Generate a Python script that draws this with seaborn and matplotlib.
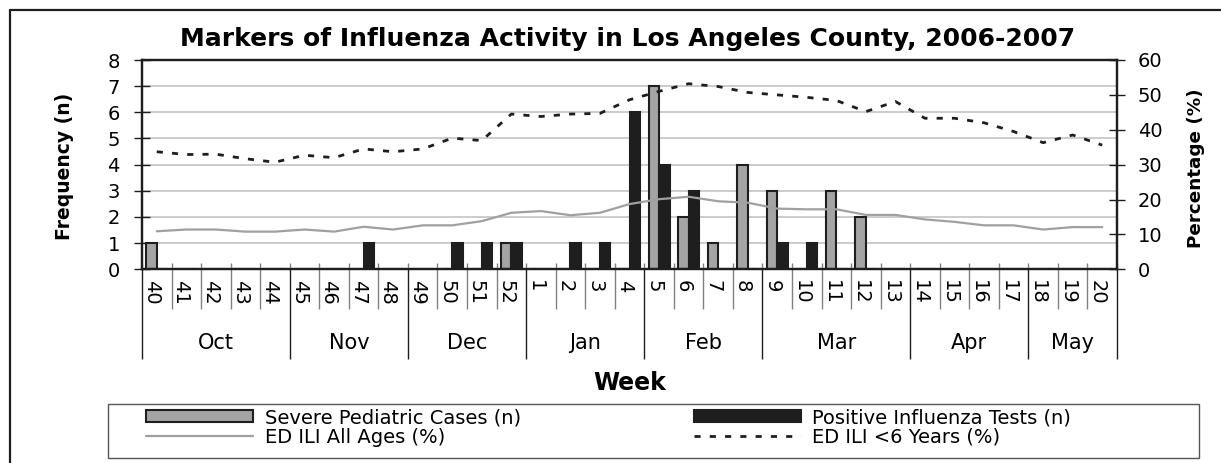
import numpy as np
import pandas as pd
import matplotlib
matplotlib.use("Agg")
import matplotlib.pyplot as plt
from matplotlib.patches import Rectangle
from matplotlib.lines import Line2D
import seaborn as sns

sns.set_style("white")
plt.rcParams['font.family'] = ['DejaVu Sans']
plt.rcParams['text.color'] = 'black'
plt.rcParams['xtick.labelcolor'] = 'black'
plt.rcParams['ytick.labelcolor'] = 'black'

# data
weeks = [str(w) for w in range(40, 53)] + [str(w) for w in range(1, 21)]
months = ["Oct", "Nov", "Dec", "Jan", "Feb", "Mar", "Apr", "May"]
month_len = [5, 4, 4, 4, 4, 5, 4, 3]

severe = [1, 0, 0, 0, 0, 0, 0, 0, 0, 0, 0, 0, 1,
          0, 0, 0, 0, 7, 2, 1, 4, 3, 0, 3, 2, 0, 0, 0, 0, 0, 0, 0, 0]
tests = [0, 0, 0, 0, 0, 0, 0, 1, 0, 0, 1, 1, 1,
         0, 1, 1, 6, 4, 3, 0, 0, 1, 1, 0, 0, 0, 0, 0, 0, 0, 0, 0, 0]
ili_all = [10.9, 11.4, 11.4, 10.8, 10.8, 11.4, 10.8, 12.2, 11.4, 12.6, 12.6, 13.8, 16.2,
           16.7, 15.5, 16.2, 18.7, 20.1, 20.8, 19.5, 19.1, 17.4, 17.2, 17.2, 15.6, 15.6,
           14.3, 13.6, 12.6, 12.6, 11.4, 12.1, 12.1]
ili_u6 = [33.7, 32.9, 33.0, 31.7, 30.7, 32.7, 32.0, 34.5, 33.7, 34.5, 37.6, 36.9, 44.5,
          43.8, 44.5, 44.7, 48.6, 51.0, 53.2, 52.4, 50.7, 50.0, 49.3, 48.4, 45.2, 48.1,
          43.3, 43.3, 42.0, 39.5, 36.3, 38.5, 35.6]

lab_sev = "Severe Pediatric Cases (n)"
lab_pos = "Positive Influenza Tests (n)"
lab_all = "ED ILI All Ages (%)"
lab_u6 = "ED ILI <6 Years (%)"

bars = pd.DataFrame({
    "Week": weeks * 2,
    "n": severe + tests,
    "Series": [lab_sev] * len(weeks) + [lab_pos] * len(weeks),
})
pos = np.arange(len(weeks))

dark = "#1e1e1e"
fig = plt.figure(figsize=(12.21, 4.63), dpi=100)
ax = fig.add_axes([142 / 1221, 1 - 269.3 / 463, (1117 - 142) / 1221, 209.3 / 463])

sns.barplot(data=bars, x="Week", y="n", hue="Series", order=weeks,
            hue_order=[lab_sev, lab_pos],
            palette={lab_sev: "#a4a4a4", lab_pos: dark},
            width=0.71, gap=0, edgecolor=dark, linewidth=1.5, ax=ax)
h_bar, l_bar = ax.get_legend_handles_labels()
ax.get_legend().remove()

ax2 = ax.twinx()
sns.lineplot(x=pos, y=ili_all, color="#a0a0a0", linewidth=1.6, ax=ax2, label=lab_all)
sns.lineplot(x=pos, y=ili_u6, color=dark, linewidth=2.0, ax=ax2, label=lab_u6,
             linestyle=(0, (2.2, 3.3)))
h_ln, l_ln = ax2.get_legend_handles_labels()
ax2.get_legend().remove()

ax.set_ylim(0, 8)
ax2.set_ylim(0, 60)
ax.set_yticks(range(0, 9))
ax2.set_yticks(range(0, 61, 10))
ax.set_xlabel("")
ax.set_ylabel("")
ax2.set_ylabel("")

ax.yaxis.grid(True, color="#c4c4c4", linewidth=1.2)
ax.set_axisbelow(True)

for a in (ax, ax2):
    for s in a.spines.values():
        s.set_color(dark)
        s.set_linewidth(1.6)

ax.tick_params(axis="y", direction="inout", length=12, width=1, color=dark,
               labelsize=14, pad=10, left=True)
ax2.tick_params(axis="y", direction="inout", length=12, width=1, color=dark,
                labelsize=14, pad=9, right=True)

# week / month separators on the category axis
bounds = np.concatenate([[0], np.cumsum(month_len)]) - 0.5
ax.set_xticks(bounds)
ax.set_xticks(pos - 0.5, minor=True)
ax.set_xlim(-0.5, len(weeks) - 0.5)
ax.tick_params(axis="x", which="major", direction="out", length=65, width=1,
               color=dark, labelbottom=False, bottom=True)
ax.tick_params(axis="x", which="minor", direction="out", length=29, width=1,
               color="#808080", labelbottom=False, bottom=True)
ax2.xaxis.set_visible(True)
ax2.tick_params(axis="x", which="both", direction="in", length=4, width=1,
                color="#808080", labelbottom=False, bottom=True)

xt = ax.get_xaxis_transform()
for i, w in enumerate(weeks):
    ax.annotate(w, xy=(i - 0.18, 0), xycoords=xt, xytext=(0, -8),
                textcoords="offset points", rotation=270, ha="center", va="top",
                fontsize=14)
start = 0
for m, n in zip(months, month_len):
    ax.annotate(m, xy=(start + (n - 1) / 2, 0), xycoords=xt, xytext=(0, -53),
                textcoords="offset points", ha="center", va="center", fontsize=15)
    start += n

ax.annotate("Week", xy=(0.5, 0), xycoords="axes fraction", xytext=(0, -82),
            textcoords="offset points", ha="center", va="center",
            fontsize=17, fontweight="bold")

fig.text(628 / 1221, 1 - 39 / 463,
         "Markers of Influenza Activity in Los Angeles County, 2006-2007",
         ha="center", va="center", fontsize=18, fontweight="bold")
fig.text(64 / 1221, 1 - 166 / 463, "Frequency (n)", rotation=90,
         ha="center", va="center", fontsize=13.5, fontweight="bold")
fig.text(1196 / 1221, 1 - 168 / 463, "Percentage (%)", rotation=90,
         ha="center", va="center", fontsize=13.2, fontweight="bold")

# legend
handles = [h_bar[0], h_ln[0], h_bar[1], h_ln[1]]
labels = [lab_sev, lab_all, lab_pos, lab_u6]
fig.legend(handles, labels, ncol=2, loc="upper left",
           bbox_to_anchor=(146 / 1221, 1 - 408 / 463), bbox_transform=fig.transFigure,
           frameon=False, borderpad=0, borderaxespad=0, fontsize=14,
           handlelength=5.5, handleheight=0.6, handletextpad=0.6,
           columnspacing=8.9, labelspacing=0.05)
fig.add_artist(Rectangle((108 / 1221, 1 - 458 / 463), (1199 - 108) / 1221, 54 / 463,
                         transform=fig.transFigure, fill=False, edgecolor="#555555",
                         linewidth=1))

# outer chart border (top and left visible)
fig.add_artist(Line2D([10 / 1221, 1], [1 - 10 / 463] * 2, transform=fig.transFigure,
                      color=dark, linewidth=1.6))
fig.add_artist(Line2D([10 / 1221] * 2, [0, 1 - 10 / 463], transform=fig.transFigure,
                      color=dark, linewidth=1.6))

fig.savefig("out.png", dpi=100)
